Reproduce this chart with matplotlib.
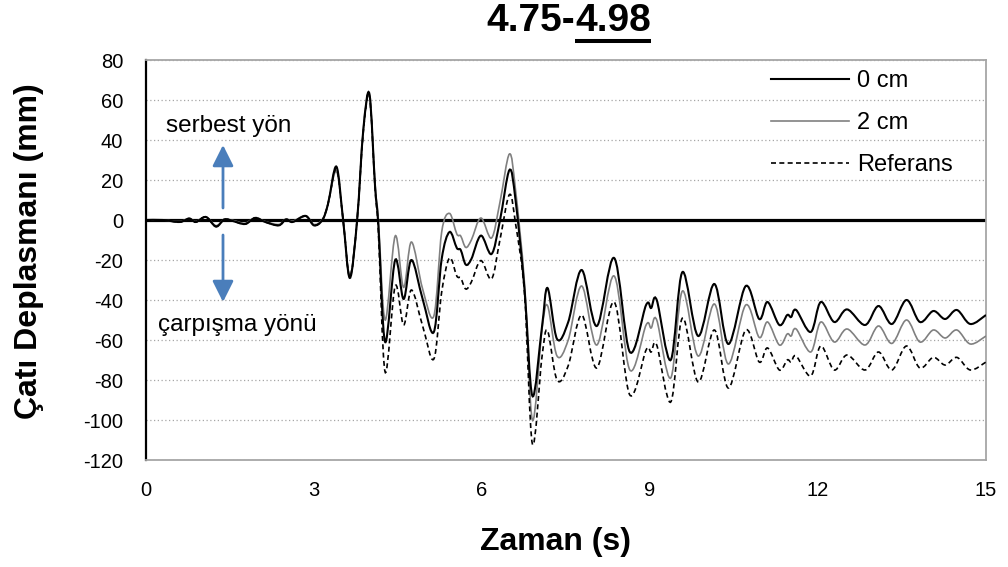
import numpy as np
import matplotlib
matplotlib.use("Agg")
import matplotlib.pyplot as plt
from matplotlib.path import Path
from matplotlib.patches import PathPatch
from matplotlib.lines import Line2D

plt.rcParams['font.family'] = ['Liberation Sans', 'DejaVu Sans']
plt.rcParams['axes.unicode_minus'] = False

# zaman (s) ve cati deplasmani (mm)
t = [0.00, 0.30, 0.60, 0.77, 0.89, 1.07, 1.25, 1.40, 1.55, 1.77, 1.95, 2.13,
     2.37, 2.50, 2.62, 2.85, 3.00, 3.15, 3.25, 3.40, 3.52, 3.64, 3.77, 3.88,
     3.99, 4.09, 4.15, 4.27, 4.45, 4.60, 4.74, 4.94, 5.14, 5.28, 5.42, 5.55,
     5.62, 5.71, 5.81, 5.98, 6.17, 6.32, 6.49, 6.60, 6.76, 6.90, 7.07, 7.17,
     7.34, 7.54, 7.78, 8.05, 8.36, 8.64, 8.93, 9.02, 9.12, 9.37, 9.58,
     9.86, 10.15, 10.40, 10.71, 10.95, 11.10, 11.31, 11.45, 11.52, 11.61,
     11.87, 12.05, 12.29, 12.52, 12.84, 13.08, 13.32, 13.58, 13.82, 14.06,
     14.27, 14.48, 14.72, 15.00]

d_0cm = [0, 0, -1, 0.7, -1, 1.5, -3.3, 0.3, -0.5, -2, 1, -1,
         -2.7, 0.3, -1, 2, -2.7, 0, 8, 26.7, 0, -29, 0, 45,
         63, 17, -3, -61, -20, -39.5, -20, -39.5, -56, -19.5, -6, -14,
         -15, -22.3, -19.5, -7.8, -17, -0.3, 25, 9.7, -35, -88, -53.7, -34,
         -59.5, -51, -25, -53, -19, -66, -42.5, -44, -40, -70, -26,
         -58, -32, -62, -33, -49.5, -41, -52.5, -47.5, -48.5, -45,
         -56, -41, -51, -44.7, -52.5, -43, -52, -40, -51, -45.5,
         -49.5, -45, -52, -47.5]

d_2cm = [0, 0, -0.8, 0.8, -0.8, 1.6, -2.8, 0.4, -0.2, -1.6, 1.2, -0.8,
         -2.2, 0.5, -0.6, 2.2, -2.2, 0.3, 8, 24.5, 0, -28, 0, 45,
         62.5, 18, 0, -50, -8, -33.7, -11, -34.5, -48, -6, 3.3, -7,
         -8, -13.7, -10, 1, -9, 8.8, 33, 14.7, -32, -100, -55, -42.8,
         -68, -60, -33, -62.5, -28, -75, -52.5, -54, -50, -79, -35.5,
         -68, -42, -72, -42.5, -58.7, -51, -62.5, -57, -58, -54.5,
         -66, -51, -61, -54.5, -62.5, -53, -61.7, -50, -61, -55,
         -59, -55, -62, -58]

d_ref = [0, 0, -1, 0.7, -1, 1.5, -3.2, 0.3, -0.5, -2, 1, -1,
         -2.6, 0.3, -1, 2, -2.6, 0, 8, 25.5, 0, -28.5, 0, 44,
         62, 16, -6, -76, -33, -52.5, -35, -53, -69.5, -36, -19, -28,
         -29, -34.5, -31, -20.3, -29.5, -10, 12.7, -2, -37, -112, -68.7, -55.3,
         -80, -72.8, -47.5, -74, -41, -87.5, -65, -66, -62.5, -91, -49,
         -81, -55, -84, -55, -71, -64, -75, -70, -71, -68,
         -78, -63, -75, -67.5, -75, -66, -75, -63, -74, -68.7,
         -72.5, -68.7, -75, -71]

labels = ['0 cm', '2 cm', 'Referans']
x_ticks = [0, 3, 6, 9, 12, 15]
y_ticks = list(range(-120, 81, 20))


def smooth_path(x, y):
    # excel tarzi yumusatilmis cizgi (catmull-rom bezier)
    x = np.asarray(x, float)
    y = np.asarray(y, float)
    n = len(x)
    verts = [(x[0], y[0])]
    codes = [Path.MOVETO]
    for i in range(n - 1):
        j0 = max(i - 1, 0)
        j3 = min(i + 2, n - 1)
        c1 = (x[i] + (x[i + 1] - x[j0]) / 6, y[i] + (y[i + 1] - y[j0]) / 6)
        c2 = (x[i + 1] - (x[j3] - x[i]) / 6, y[i + 1] - (y[j3] - y[i]) / 6)
        verts += [c1, c2, (x[i + 1], y[i + 1])]
        codes += [Path.CURVE4] * 3
    return Path(verts, codes)


fig = plt.figure(figsize=(10.08, 5.67), dpi=100)
ax = fig.add_axes([146 / 1008, 107 / 567, 840 / 1008, 400 / 567])

styles = [
    dict(color='black', lw=1.5, ls='-'),
    dict(color='#808080', lw=1.2, ls='-'),
    dict(color='black', lw=1.2, ls=(0, (3, 2))),
]
handles = []
for vals, st, lab, z in zip([d_0cm, d_2cm, d_ref], styles, labels, [4, 3, 5]):
    patch = PathPatch(smooth_path(t, vals), fill=False, edgecolor=st['color'],
                      lw=st['lw'], linestyle=st['ls'], zorder=z)
    ax.add_patch(patch)
    handles.append(Line2D([], [], color=st['color'], lw=st['lw'], ls=st['ls']))

ax.axhline(0, color='black', lw=2.3, zorder=2)

ax.set_xlim(0, 15)
ax.set_ylim(-120, 80)
ax.set_xticks(x_ticks)
ax.set_yticks(y_ticks)
ax.tick_params(axis='both', length=0, labelsize=14.5)
ax.tick_params(axis='y', pad=16.5)
ax.tick_params(axis='x', pad=15)
ax.yaxis.grid(True, color='#A6A6A6', linestyle=(0, (1, 2)), lw=0.9)
ax.set_axisbelow(True)

for side in ['top', 'right', 'bottom']:
    ax.spines[side].set_color('#A6A6A6')
    ax.spines[side].set_linewidth(1.3)
ax.spines['left'].set_color('black')
ax.spines['left'].set_linewidth(1.6)

ax.set_xlabel('Zaman (s)', fontsize=23, fontweight='bold')
ax.set_ylabel('Çatı Deplasmanı (mm)', fontsize=23, fontweight='bold')
ax.xaxis.set_label_coords(0.487, -0.1675)
ax.yaxis.set_label_coords(-0.1214, 0.5225)

# yon oklari ve aciklamalar
arrow_c = '#4A7EBB'
ax.annotate('', xy=(1.375, 37.5), xytext=(1.375, 6),
            arrowprops=dict(arrowstyle='-|>', color=arrow_c, lw=2, mutation_scale=32,
                            shrinkA=0, shrinkB=0))
ax.annotate('', xy=(1.375, -41), xytext=(1.375, -7.5),
            arrowprops=dict(arrowstyle='-|>', color=arrow_c, lw=2, mutation_scale=32,
                            shrinkA=0, shrinkB=0))
ax.text(1.48, 47, 'serbest yön', fontsize=17.5, ha='center', va='center')
ax.text(1.634, -52.5, 'çarpışma yönü', fontsize=17.5, ha='center', va='center')

ax.legend(handles, labels, loc='upper left', bbox_to_anchor=(0.744, 0.974),
          frameon=False, fontsize=17, borderpad=0, borderaxespad=0,
          handlelength=3.3, handletextpad=0.34, labelspacing=0.84)

# baslik: ikinci kisim alti cizili
split_x = 575 / 1008
base_y = 1 - 31 / 567
fig.text(split_x, base_y, '4.75-', fontsize=28, fontweight='bold',
         ha='right', va='baseline')
t2 = fig.text(split_x, base_y, '4.98', fontsize=28, fontweight='bold',
              ha='left', va='baseline')
fig.canvas.draw()
bb = t2.get_window_extent().transformed(fig.transFigure.inverted())
ul_y = 1 - 41 / 567
fig.add_artist(Line2D([bb.x0, bb.x1], [ul_y, ul_y], color='black', lw=2.9,
                      transform=fig.transFigure, solid_capstyle='butt'))

fig.savefig('out.png', dpi=100)
